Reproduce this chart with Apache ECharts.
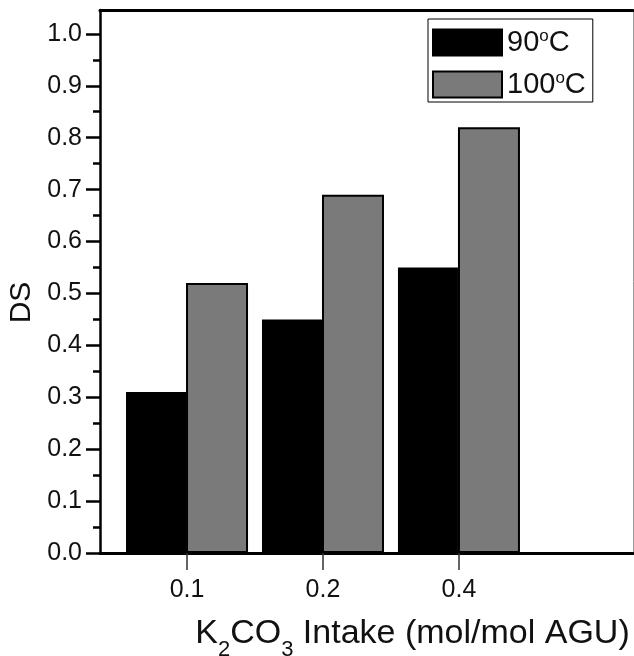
<!DOCTYPE html>
<html>
<head>
<meta charset="utf-8">
<script src="https://cdn.jsdelivr.net/npm/echarts@6/dist/echarts.min.js"></script>
<style>
html,body{margin:0;padding:0;background:#fff;}
#c{width:634px;height:656px;}
</style>
</head>
<body>
<div id="c"></div>
<script>
// ---- data ----
const categories = ['0.1', '0.2', '0.4'];
const seriesNames = ['90°C', '100°C'];
const ds90 = [0.31, 0.45, 0.55];
const ds100 = [0.52, 0.69, 0.82];
const yTickValues = [0, 0.1, 0.2, 0.3, 0.4, 0.5, 0.6, 0.7, 0.8, 0.9, 1.0];
const yMinorTickValues = [0.05, 0.15, 0.25, 0.35, 0.45, 0.55, 0.65, 0.75, 0.85, 0.95];
const xPositions = [1, 2, 3];
const yTitle = 'DS';
const xTitle = '{n|K}{s|2}{n|CO}{s|3}{n| Intake (mol/mol AGU)}';

// ---- chart ----
const F = '"Liberation Sans", Arial, Helvetica, sans-serif';
const TXT = '#111';
const chart = echarts.init(document.getElementById('c'), null, {renderer: 'canvas'});

const option = {
  animation: false,
  backgroundColor: '#fff',
  grid: {left: 100, right: 1, top: 10, bottom: 103, containLabel: false, outerBoundsMode: 'none'},
  legend: {
    orient: 'vertical',
    left: 428, top: 19,
    itemWidth: 69, itemHeight: 26, itemGap: 13,
    padding: [9, 7, 3, 4],
    borderColor: '#000', borderWidth: 1, backgroundColor: '#fff',
    icon: 'rect',
    data: seriesNames,
    formatter: function (name) { return '{t|' + name.replace('°C', '') + '}{s|o}{t|C}'; },
    textStyle: {
      fontFamily: F, color: TXT,
      rich: {
        t: {fontSize: 29, lineHeight: 29, verticalAlign: 'top', fontFamily: F, color: TXT},
        s: {fontSize: 17, verticalAlign: 'top', fontFamily: F, color: TXT}
      }
    }
  },
  xAxis: [
    {
      type: 'value', min: 0.36, max: 4.28, position: 'bottom',
      splitLine: {show: false},
      axisLine: {show: true, onZero: false, lineStyle: {color: '#000', width: 3}},
      axisTick: {show: true, customValues: xPositions, length: 17, inside: false, lineStyle: {color: '#333', width: 1.5}},
      axisLabel: {
        customValues: xPositions,
        formatter: function (v) { return categories[Math.round(v) - 1]; },
        margin: 25, fontSize: 25, color: TXT, fontFamily: F
      },
      name: xTitle, nameLocation: 'middle', nameGap: 64,
      nameTextStyle: {
        fontFamily: F, color: TXT, padding: [0, 0, 0, 92],
        rich: {
          n: {fontSize: 34, lineHeight: 34, verticalAlign: 'top', fontFamily: F, color: TXT},
          s: {fontSize: 22, verticalAlign: 'top', padding: [22, 0, 0, 0], fontFamily: F, color: TXT}
        }
      }
    },
    {
      type: 'value', min: 0.36, max: 4.28, position: 'top',
      axisLine: {show: true, onZero: false, lineStyle: {color: '#000', width: 3}},
      axisTick: {show: false}, axisLabel: {show: false}, splitLine: {show: false}
    }
  ],
  yAxis: [
    {
      type: 'value', min: 0, max: 1.046, position: 'left',
      splitLine: {show: false},
      axisLine: {show: true, onZero: false, lineStyle: {color: '#000', width: 2.5}},
      axisTick: {show: true, customValues: yTickValues, length: 14, inside: false, lineStyle: {color: '#000', width: 2.5}},
      axisLabel: {
        customValues: yTickValues,
        formatter: function (v) { return v.toFixed(1); },
        margin: 18, fontSize: 25, color: TXT, fontFamily: F, padding: [5, 0, 0, 0]
      },
      name: yTitle, nameLocation: 'middle', nameGap: 56,
      nameTextStyle: {fontSize: 30, color: TXT, fontFamily: F, padding: [0, 42, 0, 0]}
    },
    {
      type: 'value', min: 0, max: 1.046, position: 'left',
      splitLine: {show: false},
      axisLine: {show: false, onZero: false},
      axisTick: {show: true, customValues: yMinorTickValues, length: 7, inside: false, lineStyle: {color: '#000', width: 2.5}},
      axisLabel: {show: false}
    },
    {
      type: 'value', min: 0, max: 1.046, position: 'right',
      axisLine: {show: true, onZero: false, lineStyle: {color: '#999', width: 1}},
      axisTick: {show: false}, axisLabel: {show: false}, splitLine: {show: false}
    }
  ],
  series: [
    {
      type: 'bar', name: seriesNames[0], xAxisIndex: 0, yAxisIndex: 0,
      data: categories.map(function (c, i) { return [xPositions[i], ds90[i]]; }),
      barWidth: 60, barGap: '0%',
      itemStyle: {color: '#000', borderColor: '#000', borderWidth: 2}
    },
    {
      type: 'bar', name: seriesNames[1], xAxisIndex: 0, yAxisIndex: 0,
      data: categories.map(function (c, i) { return [xPositions[i], ds100[i]]; }),
      barWidth: 62, barGap: '0%',
      itemStyle: {color: '#7a7a7a', borderColor: '#000', borderWidth: 2}
    }
  ]
};
chart.setOption(option);
</script>
</body>
</html>
